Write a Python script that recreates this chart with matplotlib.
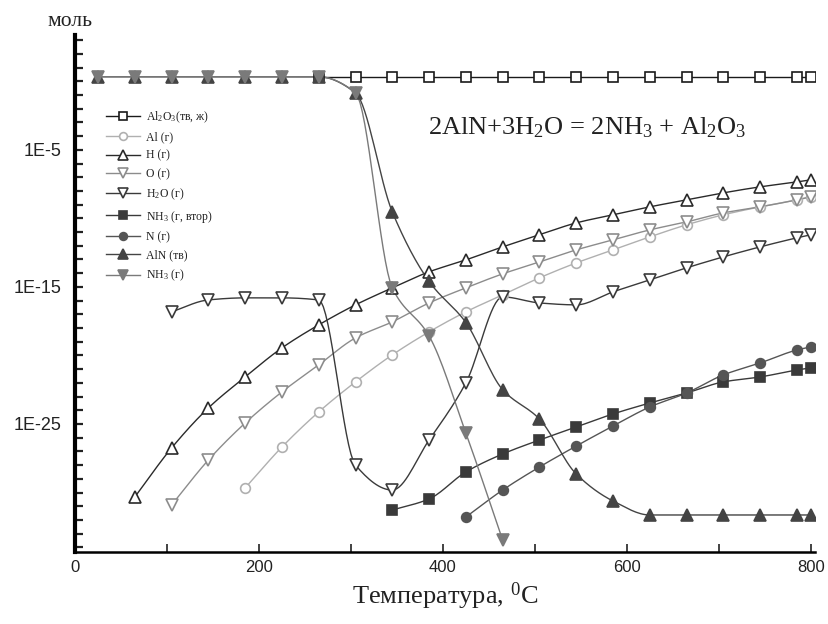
import numpy as np
import matplotlib
matplotlib.use("Agg")
import matplotlib.pyplot as plt
from matplotlib.ticker import FixedLocator, NullFormatter, FixedFormatter

plt.rcParams['font.family'] = ['Liberation Serif', 'DejaVu Serif']
plt.rcParams['mathtext.fontset'] = 'custom'
plt.rcParams['mathtext.rm'] = 'Liberation Serif'
plt.rcParams['mathtext.it'] = 'Liberation Serif:italic'

# temperature grid, deg C
temp = [25, 65, 105, 145, 185, 225, 265, 305, 345, 385, 425,
        465, 505, 545, 585, 625, 665, 705, 745, 785, 800]

# log10 of amount, mol
lg_al2o3 = [0.33] * 15            # from 265 C on
lg_al = [-29.67, -26.68, -24.12, -21.93, -19.96, -18.28, -16.82, -15.58,
         -14.34, -13.25, -12.30, -11.35, -10.47, -9.74, -9.16, -8.65, -8.43]
lg_h = [-30.33, -26.75, -23.83, -21.57, -19.45, -17.77, -16.31, -15.07,
        -13.90, -13.03, -12.08, -11.20, -10.33, -9.74, -9.16, -8.65,
        -8.14, -7.70, -7.34, -7.19]
lg_o = [-30.91, -27.63, -24.93, -22.66, -20.69, -18.72, -17.55, -16.17,
        -15.07, -14.05, -13.18, -12.30, -11.57, -10.84, -10.26, -9.60,
        -9.16, -8.65, -8.43]
lg_h2o = [-16.82, -15.95, -15.80, -15.80, -15.95, -28.0, -29.82, -26.17,
          -22.0, -15.73, -16.17, -16.31, -15.36, -14.49, -13.61, -12.81,
          -12.08, -11.42, -11.20]
lg_nh3_2 = [-31.28, -30.47, -28.50, -27.19, -26.17, -25.22, -24.27, -23.47,
            -22.74, -21.93, -21.57, -21.06, -20.91]
lg_n = [-31.79, -29.82, -28.14, -26.61, -25.15, -23.76, -22.74, -21.42,
        -20.55, -19.60, -19.38]
lg_aln = [0.33, 0.33, 0.33, 0.33, 0.33, 0.33, 0.33, -0.84, -9.53, -14.6,
          -17.6, -22.5, -24.64, -28.65, -30.62, -31.64, -31.64, -31.64,
          -31.64, -31.64, -31.64]
lg_nh3 = [0.33, 0.33, 0.33, 0.33, 0.33, 0.33, 0.33, -0.84, -15.07, -18.58,
          -25.66, -33.47]

labels = ['Al$_2$O$_3$(тв, ж)', 'Al (г)', 'H (г)', 'O (г)', 'H$_2$O (г)',
          'NH$_3$ (г, втор)', 'N (г)', 'AlN (тв)', 'NH$_3$ (г)']


def smooth(x, y, n=16):
    # monotone cubic (pchip) through the points, only for the drawn line
    x = np.asarray(x, float)
    y = np.asarray(y, float)
    if len(x) < 3:
        return x, y
    h = np.diff(x)
    dl = np.diff(y) / h
    d = np.zeros_like(y)
    d[0], d[-1] = dl[0], dl[-1]
    for k in range(1, len(x) - 1):
        if dl[k - 1] * dl[k] > 0:
            w1 = 2 * h[k] + h[k - 1]
            w2 = h[k] + 2 * h[k - 1]
            d[k] = (w1 + w2) / (w1 / dl[k - 1] + w2 / dl[k])
    t = np.linspace(0, 1, n, endpoint=False)
    xs, ys = [], []
    for k in range(len(x) - 1):
        h00 = 2 * t ** 3 - 3 * t ** 2 + 1
        h10 = t ** 3 - 2 * t ** 2 + t
        h01 = -2 * t ** 3 + 3 * t ** 2
        h11 = t ** 3 - t ** 2
        xs.append(x[k] + t * h[k])
        ys.append(h00 * y[k] + h10 * h[k] * d[k] + h01 * y[k + 1]
                  + h11 * h[k] * d[k + 1])
    xs.append([x[-1]])
    ys.append([y[-1]])
    return np.concatenate(xs), np.concatenate(ys)


fig = plt.figure(figsize=(8.29, 6.24), dpi=100)
ax = fig.add_axes([0.0905, 0.1154, 0.893, 0.829])

series = [
    (temp[6:], lg_al2o3, 's', '#1a1a1a', 'none', 7),
    (temp[4:], lg_al, 'o', '#b0b0b0', 'none', 7),
    (temp[1:], lg_h, '^', '#2a2a2a', 'none', 9),
    (temp[2:], lg_o, 'v', '#8c8c8c', 'none', 9),
    (temp[2:], lg_h2o, 'v', '#3a3a3a', 'none', 9),
    (temp[8:], lg_nh3_2, 's', '#3a3a3a', '#3a3a3a', 6.5),
    (temp[10:], lg_n, 'o', '#555555', '#555555', 7),
    (temp, lg_aln, '^', '#444444', '#444444', 8.5),
    (temp[:12], lg_nh3, 'v', '#7a7a7a', '#7a7a7a', 8.5),
]

for (tx, ly, mk, col, fc, ms), lab in zip(series, labels):
    sx, sy = smooth(tx, ly)
    ax.plot(sx, 10.0 ** sy, '-', color=col, lw=1.0, zorder=2)
    ax.plot(tx, 10.0 ** np.asarray(ly), ls='none', marker=mk, ms=ms,
            mfc=fc if fc != 'none' else 'white', mec=col, mew=1.2, zorder=3)
    ax.plot([], [], '-', color=col, lw=1.0, marker=mk, ms=ms * 0.8,
            mfc=fc if fc != 'none' else 'white', mec=col, mew=1.2, label=lab)

ax.set_yscale('log')
ax.set_xlim(0, 805)
ax.set_ylim(10 ** -34.34, 10 ** 3.4)

ax.yaxis.set_major_locator(FixedLocator([1e-5, 1e-15, 1e-25]))
ax.yaxis.set_major_formatter(FixedFormatter(['1E-5', '1E-15', '1E-25']))
ax.yaxis.set_minor_locator(FixedLocator([10.0 ** k for k in range(-34, 4)]))
ax.yaxis.set_minor_formatter(NullFormatter())
ax.tick_params(axis='y', which='both', direction='in', length=6, width=1.6,
               labelsize=13, colors='#222222', pad=10)
ax.set_xticks([0, 200, 400, 600, 800])
ax.set_xticks([100, 300, 500, 700], minor=True)
ax.tick_params(axis='x', which='both', direction='in', length=6, width=1.2,
               labelsize=12, colors='#222222', pad=6)
for lab in ax.get_xticklabels() + ax.get_yticklabels():
    lab.set_family(['Liberation Sans', 'DejaVu Sans'])

ax.spines['top'].set_visible(False)
ax.spines['right'].set_visible(False)
ax.spines['left'].set_linewidth(3)
ax.spines['bottom'].set_linewidth(1.8)

ax.set_xlabel('Температура, $^0$C', fontsize=19, color='#222222', labelpad=4)
fig.text(0.0845, 0.965, 'моль', fontsize=15.5, color='#222222',
         ha='center', va='center')
ax.text(384, 10 ** -3.4, '2AlN+3H$_2$O = 2NH$_3$ + Al$_2$O$_3$',
        fontsize=19, color='#222222', ha='left', va='center')

leg = ax.legend(loc='upper left', bbox_to_anchor=(0.035, 0.865), frameon=False,
                fontsize=8.5, handlelength=2.9, labelspacing=0.55,
                handletextpad=0.5, borderaxespad=0)
for t in leg.get_texts():
    t.set_color('#222222')

fig.savefig('out.png', dpi=100)
